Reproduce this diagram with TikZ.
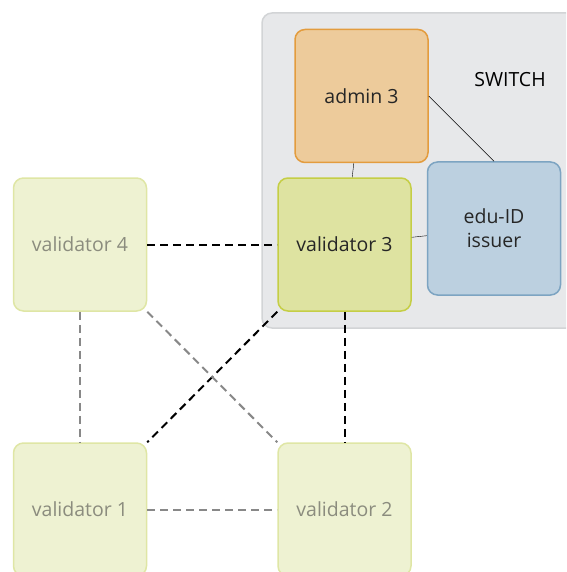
\documentclass[tikz,border=0pt]{standalone}
\usepackage{fontspec}
\setmainfont{Open Sans}
\definecolor{grpfill}{HTML}{E7E8EA}
\definecolor{grpline}{HTML}{D2D4D6}
\definecolor{admfill}{HTML}{EDCB9B}
\definecolor{admline}{HTML}{E39C3E}
\definecolor{valfill}{HTML}{DEE3A1}
\definecolor{valline}{HTML}{C5CE45}
\definecolor{idfill}{HTML}{BCD0E0}
\definecolor{idline}{HTML}{7DA4C2}
\definecolor{offfill}{HTML}{EEF2D2}
\definecolor{offline}{HTML}{DFE6A5}
\definecolor{offtext}{HTML}{8B8C7E}
\definecolor{offdash}{HTML}{888888}
\begin{document}
\begin{tikzpicture}[x=1pt,y=-1pt,
  font=\fontsize{19.5}{24}\selectfont,
  box/.style={draw, rounded corners=10pt, line width=1.5pt, minimum width=133pt,
    minimum height=133pt, align=center, text=black!85},
  offbox/.style={box, fill=offfill, draw=offline, text=offtext},
  link/.style={line width=2pt, dash pattern=on 8pt off 5pt},
  offlink/.style={link, draw=offdash}]
\useasboundingbox (0,0) rectangle (566,572);
\clip (0,0) rectangle (566,572);
\path[fill=grpfill, draw=grpline, line width=1.5pt, rounded corners=10pt] (262,13) rectangle (600,328);
\node (sw) at (510,80) {SWITCH};

\node[box, fill=admfill, draw=admline] (a3) at (361.5,96) {admin 3};
\node[box, fill=idfill, draw=idline] (id) at (494,228.5) {edu-ID\\issuer};
\node[box, fill=valfill, draw=valline] (v3) at (344.5,244.5) {validator 3};
\node[offbox] (v4) at (80,244.5) {validator 4};
\node[offbox] (v1) at (80,509.5) {validator 1};
\node[offbox] (v2) at (344.5,509.5) {validator 2};

\path[draw,thin] (a3) -- (v3);
\path[draw,thin] (a3.east) -- (id.north);
\path[draw,thin] (v3) -- (id);

\path[draw,link] (v4) -- (v3);
\path[draw,link] (v3) -- (v2);
\path[draw,link] (v3.south west) -- (v1.north east);
\path[draw,offlink] (v4) -- (v1);
\path[draw,offlink] (v4.south east) -- (v2.north west);
\path[draw,offlink] (v1) -- (v2);
\end{tikzpicture}
\end{document}
